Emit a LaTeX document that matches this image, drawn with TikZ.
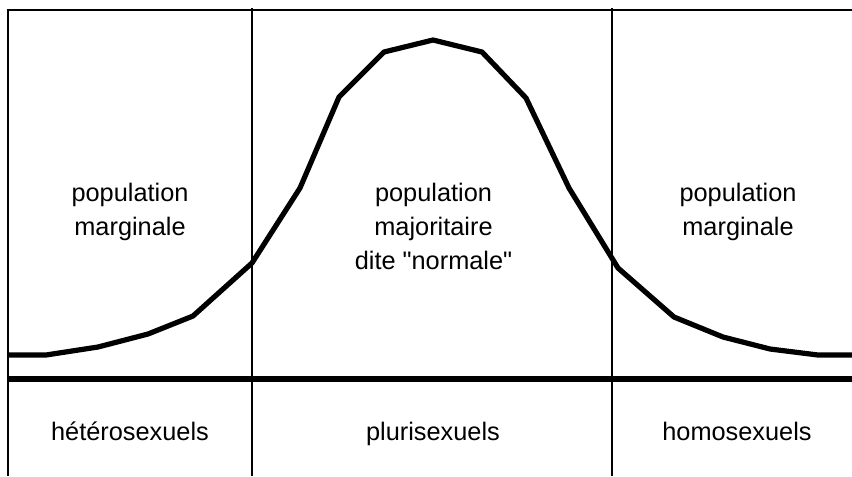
\documentclass[tikz,border=0pt]{standalone}
\usepackage{fontspec}
\setmainfont{Liberation Sans}[Ligatures=TeXOff]
\begin{document}
\begin{tikzpicture}[x=0.75pt,y=-0.75pt,
  thin line/.style={line width=1.4pt},
  axis line/.style={line width=5.2pt},
  curve line/.style={line width=3.9pt,line join=round},
  lbl/.style={inner sep=0pt,align=center,anchor=base,font=\fontsize{19}{25.2}\selectfont}]
\useasboundingbox (0,0) rectangle (852,476);
% frame
\coordinate (tl) at (8,10);
\coordinate (tr) at (852,10);
\coordinate (bl) at (8,476);
\draw[thin line] (bl) -- (tl) -- (tr);
% dividers
\coordinate (d1t) at (252,8);
\coordinate (d1b) at (252,476);
\coordinate (d2t) at (612,8);
\coordinate (d2b) at (612,476);
\draw[thin line] (d1t) -- (d1b);
\draw[thin line] (d2t) -- (d2b);
% axis
\coordinate (al) at (8,379);
\coordinate (ar) at (852,379);
\draw[axis line] (al) -- (ar);
% curve
\draw[curve line] (8,355) -- (46,355) -- (98,347) -- (148,334) -- (193,316) -- (252,263)
  -- (300,188) -- (339,97) -- (384,52) -- (433,40) -- (482,52) -- (526,98)
  -- (569,188) -- (618,268) -- (674,317) -- (723,337) -- (770,349) -- (818,355) -- (852,355);
% labels (base anchor = baseline of last line)
\node[lbl] (pm1) at (130,235) {population\\marginale};
\node[lbl] (pmaj) at (433.5,269) {population\\majoritaire\\dite "normale"};
\node[lbl] (pm2) at (738,235) {population\\marginale};
\node[lbl] (het) at (130,440) {hétérosexuels};
\node[lbl] (plu) at (433,440) {plurisexuels};
\node[lbl] (hom) at (737,440) {homosexuels};
\end{tikzpicture}
\end{document}
